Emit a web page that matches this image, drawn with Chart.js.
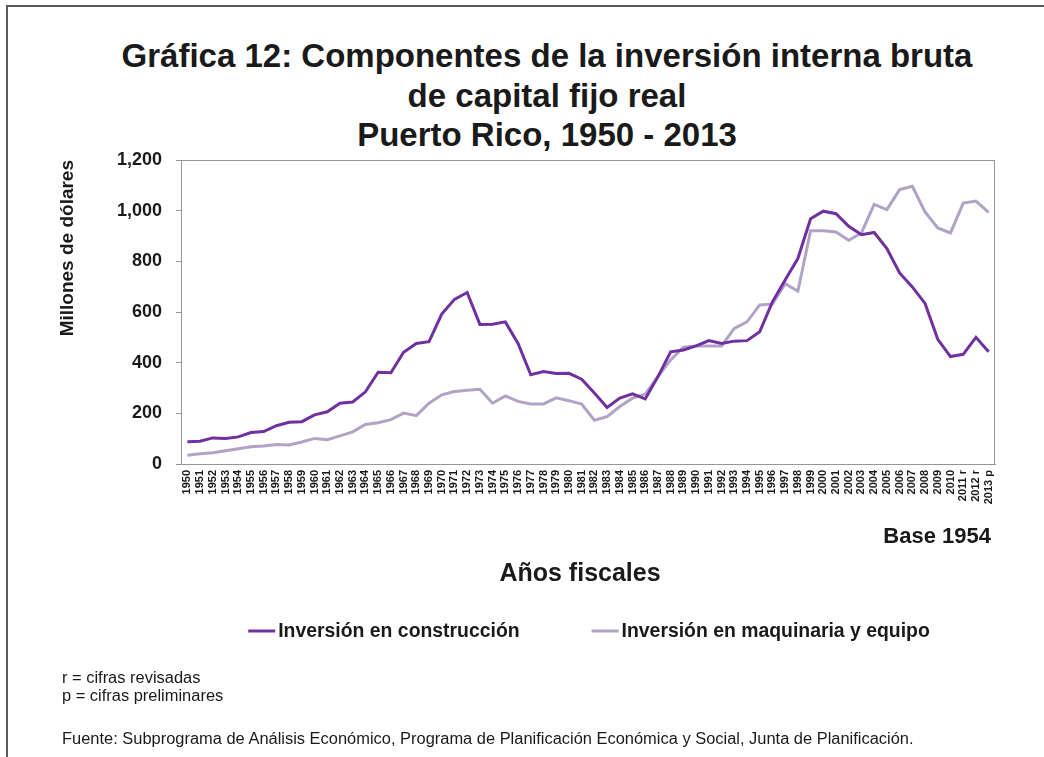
<!DOCTYPE html>
<html>
<head>
<meta charset="utf-8">
<script src="https://cdn.jsdelivr.net/npm/chart.js@4.4.0/dist/chart.umd.min.js"></script>
<style>
  body { margin: 0; background: #fff; }
  #wrap { position: relative; width: 1044px; height: 757px; overflow: hidden; font-family: "Liberation Sans", Arial, sans-serif; }
  #frame { position: absolute; left: 6px; top: 5px; right: -10px; bottom: -10px; border-top: 2px solid #5a5a5a; border-left: 2px solid #5a5a5a; }
  #chart { position: absolute; left: 0; top: 0; }
  #title { position: absolute; left: 47px; top: 36px; width: 1000px; text-align: center; font-weight: bold; font-size: 33px; line-height: 39.6px; color: #1a1a1a; }
  .note { position: absolute; left: 62px; font-size: 16.45px; line-height: 18px; color: #1a1a1a; white-space: nowrap; }
</style>
</head>
<body>
<div id="wrap">
  <div id="frame"></div>
  <div id="title">Gráfica 12: Componentes de la inversión interna bruta<br>de capital fijo real<br>Puerto Rico, 1950 - 2013</div>
  <canvas id="chart" width="1044" height="757"></canvas>
  <div class="note" style="top:668px">r = cifras revisadas</div>
  <div class="note" style="top:686px">p = cifras preliminares</div>
  <div class="note" style="top:729px">Fuente: Subprograma de Análisis Económico, Programa de Planificación Económica y Social, Junta de Planificación.</div>
</div>
<script>
const FONT = '"Liberation Sans", Arial, sans-serif';

const years = [
  "1950", "1951", "1952", "1953", "1954", "1955", "1956", "1957", "1958", "1959",
  "1960", "1961", "1962", "1963", "1964", "1965", "1966", "1967", "1968", "1969",
  "1970", "1971", "1972", "1973", "1974", "1975", "1976", "1977", "1978", "1979",
  "1980", "1981", "1982", "1983", "1984", "1985", "1986", "1987", "1988", "1989",
  "1990", "1991", "1992", "1993", "1994", "1995", "1996", "1997", "1998", "1999",
  "2000", "2001", "2002", "2003", "2004", "2005", "2006", "2007", "2008", "2009",
  "2010", "2011 r", "2012 r", "2013 p"
];

// millones de dolares, base 1954
const construccion = [
  88, 90, 103, 101, 107, 124, 128, 151, 165, 167,
  194, 206, 240, 245, 285, 362, 360, 441, 476, 483,
  592, 650, 677, 551, 552, 561, 476, 352, 365, 357,
  358, 335, 280, 223, 260, 277, 257, 345, 443, 450,
  466, 487, 476, 485, 487, 522, 640, 726, 811, 968,
  998, 988, 938, 905, 914, 850, 754, 699, 634, 492,
  424, 433, 500, 443
];

const maquinaria = [
  35, 40, 44, 52, 60, 68, 71, 77, 75, 87,
  101, 96, 111, 127, 156, 163, 175, 201, 191, 240,
  273, 286, 291, 295, 240, 269, 247, 237, 237, 261,
  250, 237, 173, 187, 227, 260, 276, 345, 411, 461,
  466, 466, 466, 535, 561, 628, 631, 712, 682, 921,
  921, 916, 883, 912, 1025, 1004, 1083, 1096, 995, 932,
  912, 1030, 1038, 993
];

const yMin = 0;
const yMax = 1200;
const yStep = 200;

const seriesNames = ["Inversión en construcción", "Inversión en maquinaria y equipo"];
const seriesColors = ["#7030a0", "#b3a2c7"];

const axisGray = "#969696";
const textColor = "#1a1a1a";

// frame, axis title, base label and legend drawn on the canvas
const extras = {
  id: "extras",
  beforeDatasetsDraw(chart) {
    const { ctx, chartArea: a } = chart;
    ctx.save();
    ctx.strokeStyle = axisGray;
    ctx.lineWidth = 1;
    ctx.strokeRect(a.left + 0.5, a.top + 0.5, a.right - a.left - 1, a.bottom - a.top);
    ctx.restore();
  },
  afterDraw(chart) {
    const { ctx, chartArea: a } = chart;
    ctx.save();
    ctx.fillStyle = textColor;
    ctx.textBaseline = "middle";

    ctx.font = "bold 22px " + FONT;
    ctx.textAlign = "right";
    ctx.fillText("Base 1954", a.right - 4, 537);

    ctx.font = "bold 25px " + FONT;
    ctx.textAlign = "center";
    ctx.fillText("Años fiscales", 580, 574);

    // legend
    ctx.font = "bold 19.4px " + FONT;
    ctx.textAlign = "left";
    const sw = 27, gap = 3, between = 72, ly = 631;
    const items = chart.data.datasets.map(ds => ({
      text: ds.label, color: ds.borderColor, w: ctx.measureText(ds.label).width
    }));
    let total = between * (items.length - 1);
    items.forEach(it => { total += sw + gap + it.w; });
    let x = (a.left + a.right) / 2 - total / 2 + 1;
    items.forEach(it => {
      ctx.strokeStyle = it.color;
      ctx.lineWidth = 3;
      ctx.beginPath();
      ctx.moveTo(x, ly);
      ctx.lineTo(x + sw, ly);
      ctx.stroke();
      ctx.fillStyle = textColor;
      ctx.fillText(it.text, x + sw + gap, ly + 1);
      x += sw + gap + it.w + between;
    });
    ctx.restore();
  }
};

const chart = new Chart(document.getElementById("chart"), {
  type: "line",
  data: {
    labels: years,
    datasets: [
      {
        label: seriesNames[0],
        data: construccion,
        borderColor: seriesColors[0],
        backgroundColor: seriesColors[0],
        borderWidth: 3,
        pointRadius: 0,
        tension: 0
      },
      {
        label: seriesNames[1],
        data: maquinaria,
        borderColor: seriesColors[1],
        backgroundColor: seriesColors[1],
        borderWidth: 3,
        pointRadius: 0,
        tension: 0
      }
    ]
  },
  options: {
    responsive: false,
    animation: false,
    layout: { padding: { top: 160, left: 50, right: 49, bottom: 157 } },
    plugins: {
      legend: { display: false },
      title: { display: false },
      tooltip: { enabled: false }
    },
    scales: {
      x: {
        offset: true,
        grid: { drawOnChartArea: false, drawTicks: false, color: axisGray },
        border: { color: axisGray },
        ticks: {
          autoSkip: false,
          maxRotation: 90,
          minRotation: 90,
          padding: 6,
          color: textColor,
          font: { family: FONT, size: 11, weight: "bold" }
        },
        afterFit(scale) { scale.height = 136; }
      },
      y: {
        min: yMin,
        max: yMax,
        grid: { drawOnChartArea: false, drawTicks: true, tickLength: 5, color: axisGray },
        border: { color: axisGray },
        ticks: {
          stepSize: yStep,
          padding: 14,
          color: textColor,
          font: { family: FONT, size: 18, weight: "bold" },
          callback: v => v.toLocaleString("en-US")
        },
        title: {
          display: true,
          text: "Millones de dólares",
          align: "end",
          color: textColor,
          font: { family: FONT, size: 19, weight: "bold" },
          padding: { top: 6, bottom: 0 }
        },
        afterFit(scale) { scale.width = 131; }
      }
    }
  },
  plugins: [extras]
});
</script>
</body>
</html>
